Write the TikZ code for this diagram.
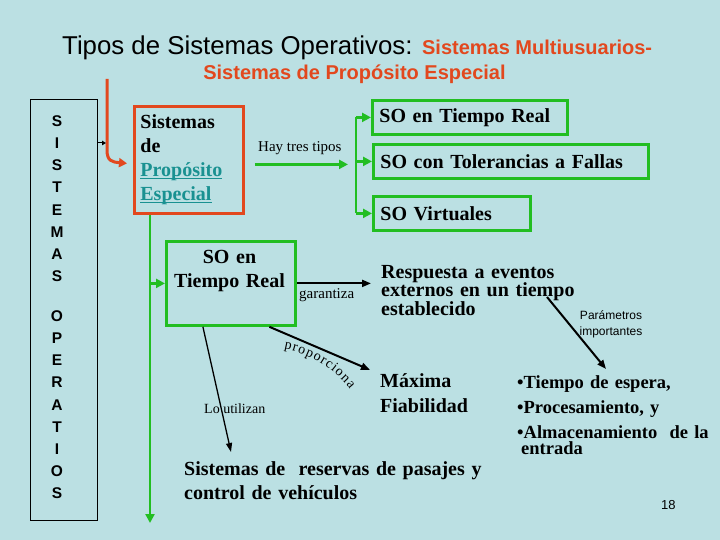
\documentclass[tikz,border=0pt]{standalone}
\usepackage{fontspec}
\setmainfont{Liberation Serif}
\newfontfamily\arialf{Liberation Sans}
\newcommand\myul[1]{\leavevmode\setbox0\hbox{#1}\rlap{\rule[-2.2pt]{\wd0}{1.3pt}}\box0}
\usetikzlibrary{arrows.meta,decorations.text,calc}
\definecolor{bgc}{RGB}{187,224,227}
\definecolor{gcol}{RGB}{34,190,34}
\definecolor{rcol}{RGB}{226,72,30}
\definecolor{tealc}{RGB}{25,145,145}
\tikzset{
  gbox/.style={draw=gcol, line width=2.8pt, inner ysep=0pt},
  gline/.style={draw=gcol, line width=2.8pt},
  garr/.style={draw=gcol, line width=2.8pt, -{Triangle[length=9pt,width=9pt]}},
  barr/.style={draw=black, line width=2pt, -{Triangle[length=9pt,width=7pt]}},
  thinarr/.style={draw=black, line width=1.3pt, -{Triangle[length=9pt,width=6pt]}},
  rarr/.style={draw=rcol, line width=3pt, -{Triangle[length=8pt,width=9pt]}},
  lett/.style={inner sep=0pt, font=\arialf\bfseries\fontsize{15.5}{15.5}\selectfont},
  bigtxt/.style={inner sep=0pt, anchor=base west, align=left, font=\bfseries\fontsize{20}{24}\selectfont},
  smalltxt/.style={inner sep=0pt, anchor=base west, font=\fontsize{14}{14}\selectfont}
}
\begin{document}
\begin{tikzpicture}[x=1pt,y=-1pt]
\fill[bgc] (0,0) rectangle (720,540);
\useasboundingbox (0,0) rectangle (720,540);

% titles
\node[anchor=base west, inner sep=0pt] (title) at (62,55)
  {{\arialf\fontsize{25.8}{30}\selectfont Tipos de Sistemas Operativos: }{\arialf\bfseries\color{rcol}\fontsize{20}{24}\selectfont Sistemas Multiusuarios-}};
\node[anchor=base, inner sep=0pt, text=rcol, font=\arialf\bfseries\fontsize{20}{24}\selectfont] (sub) at (354.5,80) {Sistemas de Propósito Especial};

% left box
\node[draw=black, line width=0.8pt, anchor=north west, minimum width=67pt, minimum height=421pt, inner sep=0pt] (lb) at (30,99) {};
\foreach \l [count=\i] in {S,I,S,T,E,M,A,S}
  \node[lett] (l\i) at (57,{121+(\i-1)*22.2}) {\l};
\foreach \l [count=\i] in {O,P,E,R,A,T,I,O,S}
  \node[lett] (m\i) at (57,{316+(\i-1)*22.2}) {\l};

% red box
\node[draw=rcol, line width=2.8pt, anchor=north west, minimum width=109pt, minimum height=107pt,
      text width=97pt, inner xsep=6pt, inner ysep=0pt, align=left,
      font=\bfseries\fontsize{20}{24}\selectfont] (rb) at (133,105)
  {Sistemas\\de\\{\color{tealc}\myul{Propósito}}\\{\color{tealc}\myul{Especial}}};

% red arrow and tiny arrow
\coordinate (ra) at (107,79);
\draw[rarr] (ra) -- (107,150) .. controls (107,161) and (112,162) .. ($(rb.west)+(-6,3.5)$);
\draw[-{Triangle[length=4pt,width=4.5pt]}, line width=1pt] (lb.east |- 0,143) -- (106,143);

% green type boxes
\node[gbox, anchor=north west, minimum width=195pt, minimum height=34pt, text width=181pt, inner xsep=7pt, align=left,
      font=\bfseries\fontsize{20}{24}\selectfont] (t1) at (371,99) {SO en Tiempo Real};
\node[gbox, anchor=north west, minimum width=275pt, minimum height=34pt, text width=261pt, inner xsep=7pt, align=left,
      font=\bfseries\fontsize{20}{24}\selectfont] (t2) at (372,143) {SO con Tolerancias a Fallas};
\node[gbox, anchor=north west, minimum width=157pt, minimum height=34pt, text width=143pt, inner xsep=7pt, align=left,
      font=\bfseries\fontsize{20}{24}\selectfont] (t3) at (372,195) {SO Virtuales};

\coordinate (br) at (356,0);
\draw[garr] ($(rb.east)+(10,4.5)$) -- ($(rb.east -| br)+(-8,4.5)$);
\node[smalltxt, font=\fontsize{15}{15}\selectfont] (hay) at (258,152) {Hay tres tipos};
\draw[gline] (t1.west -| br) -- (t3.west -| br);
\foreach \t in {t1,t2,t3}
  \draw[garr] (\t.west -| br) -- (\t.west);

% lower box
\node[gbox, anchor=north west, minimum width=129pt, minimum height=84pt, inner sep=0pt] (rt) at (165,240) {};
\node[anchor=base, inner sep=0pt, text width=125pt, align=center, font=\bfseries\fontsize{20}{24}\selectfont] (rtt) at (229.5,263) {SO en\\Tiempo Real};

% green vertical
\coordinate (gv) at ($(rb.south west)+(17,0)$);
\coordinate (gend) at (150,523);
\draw[garr] (gv) -- (gend);
\draw[garr] (rt.west -| gv) -- (rt.west);

% text blocks
\node[bigtxt, text width=210pt, font=\bfseries\fontsize{20}{18.5}\selectfont] (resp) at (381,278)
  {Respuesta a eventos\\externos en un tiempo\\establecido};
\node[bigtxt, text width=120pt, font=\bfseries\fontsize{20}{25}\selectfont] (maxf) at (380,387) {Máxima\\Fiabilidad};
\node[bigtxt, text width=320pt] (res) at (184,475) {Sistemas de \ reservas de pasajes y\\control de vehículos};
\node[bigtxt, text width=200pt, font=\bfseries\fontsize{18.5}{25}\selectfont] (bul) at (517,388)
  {•Tiempo de espera,\\•Procesamiento, y\\•Almacenamiento \ de la\\[-9pt]\hspace*{4pt}entrada};

% labels
\node[smalltxt, font=\fontsize{15}{15}\selectfont] (gar) at (299,298) {garantiza};
\node[smalltxt] (lou) at (204,413) {Lo utilizan};
\node[anchor=base, inner sep=0pt, text width=80pt, align=center, font=\arialf\fontsize{12}{16.5}\selectfont] (par) at (611,319) {Parámetros\\importantes};
\node[anchor=base west, inner sep=0pt, font=\arialf\fontsize{13}{13}\selectfont] (num) at (661,509) {18};

% black connectors
\draw[barr] (rt.east) -- ($(rt.east -| resp.west)+(-10,0)$);
\draw[barr] ($(rt.south)+(38.5,0)$) -- ($(maxf.north west)+(-10,-3)$);
\coordinate (lu) at (231,452);
\draw[thinarr] ($(rt.south)+(-28,0)$) -- (lu);
\coordinate (pa) at (547,297);
\coordinate (pb) at (606,369);
\draw[barr] (pa) -- (pb);

% curved label
\path[decorate, decoration={text along path, text={|\fontsize{14}{14}\selectfont|proporciona}, text align=fit to path}]
  (284,349) .. controls (306,353) and (331,365) .. (350,389);
\end{tikzpicture}
\end{document}
